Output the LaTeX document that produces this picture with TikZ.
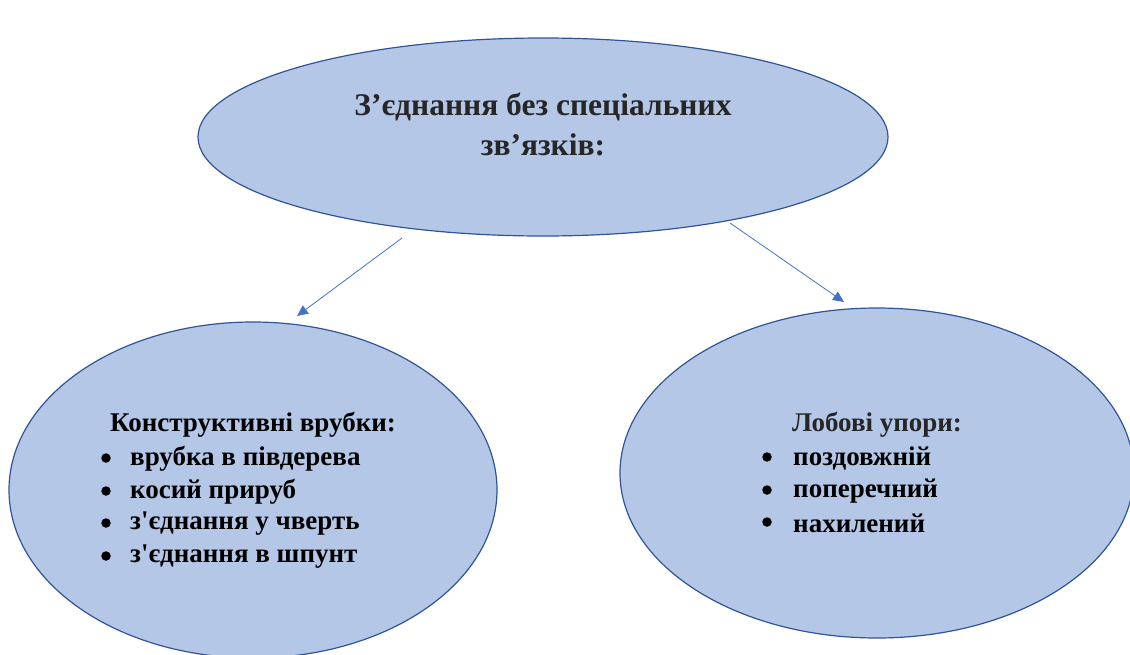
\documentclass[tikz,border=0pt]{standalone}
\usepackage{fontspec}
\setmainfont{Liberation Serif}
\usetikzlibrary{shapes.geometric,arrows.meta}
\definecolor{efill}{HTML}{B4C7E7}
\definecolor{edraw}{HTML}{2F5597}
\definecolor{arr}{HTML}{4472C4}
\definecolor{dtext}{HTML}{262626}
\begin{document}
\begin{tikzpicture}[x=1pt,y=-1pt,
  oval/.style={ellipse,draw=edraw,fill=efill,line width=1.2pt,inner sep=0pt},
  conn/.style={draw=arr,line width=0.8pt,-{Triangle[length=11pt,width=10pt]}},
  ttl/.style={font=\bfseries\fontsize{27}{32}\selectfont,inner sep=0pt},
  itm/.style={font=\bfseries\fontsize{27}{32}\selectfont,inner sep=0pt,anchor=west},
  bul/.style={circle,fill=black,inner sep=0pt,minimum size=9.5pt}]
\useasboundingbox (0,0) rectangle (1130,654);
\node[oval,minimum width=690pt,minimum height=198pt] (top) at (543,137) {};
\node[oval,minimum width=488pt,minimum height=336pt] (left) at (253,490) {};
\node[oval,minimum width=514pt,minimum height=330pt] (right) at (877,473) {};
\node[font=\bfseries\fontsize{31.5}{40}\selectfont,text=dtext,align=center,inner sep=0pt] (toptext) at (543,124) {З’єднання без спеціальних\\зв’язків:};
% left
\node[ttl] (lt) at (253,425) {Конструктивні врубки:};
\node[bul] (lb1) at (106,458) {};
\node[itm] (l1) at (130,459) {врубка в півдерева};
\node[bul] (lb2) at (106,491) {};
\node[itm] (l2) at (130,492) {косий прируб};
\node[bul] (lb3) at (106,523) {};
\node[itm] (l3) at (130,524) {з\textquotesingle єднання у чверть};
\node[bul] (lb4) at (106,556) {};
\node[itm] (l4) at (130,557) {з\textquotesingle єднання в шпунт};
% right
\node[ttl,text=dtext] (rt) at (877,425) {Лобові упори:};
\node[bul] (rb1) at (767,457) {};
\node[itm] (r1) at (793,458) {поздовжній};
\node[bul] (rb2) at (767,490) {};
\node[itm] (r2) at (793,491) {поперечний};
\node[bul] (rb3) at (767,522) {};
\node[itm] (r3) at (793,523) {нахилений};
% arrows
\coordinate (a1s) at (402,238);
\coordinate (a1e) at (297,316);
\coordinate (a2s) at (730,223);
\coordinate (a2e) at (844,302);
\draw[conn] (a1s) -- (a1e);
\draw[conn] (a2s) -- (a2e);
\end{tikzpicture}
\end{document}
